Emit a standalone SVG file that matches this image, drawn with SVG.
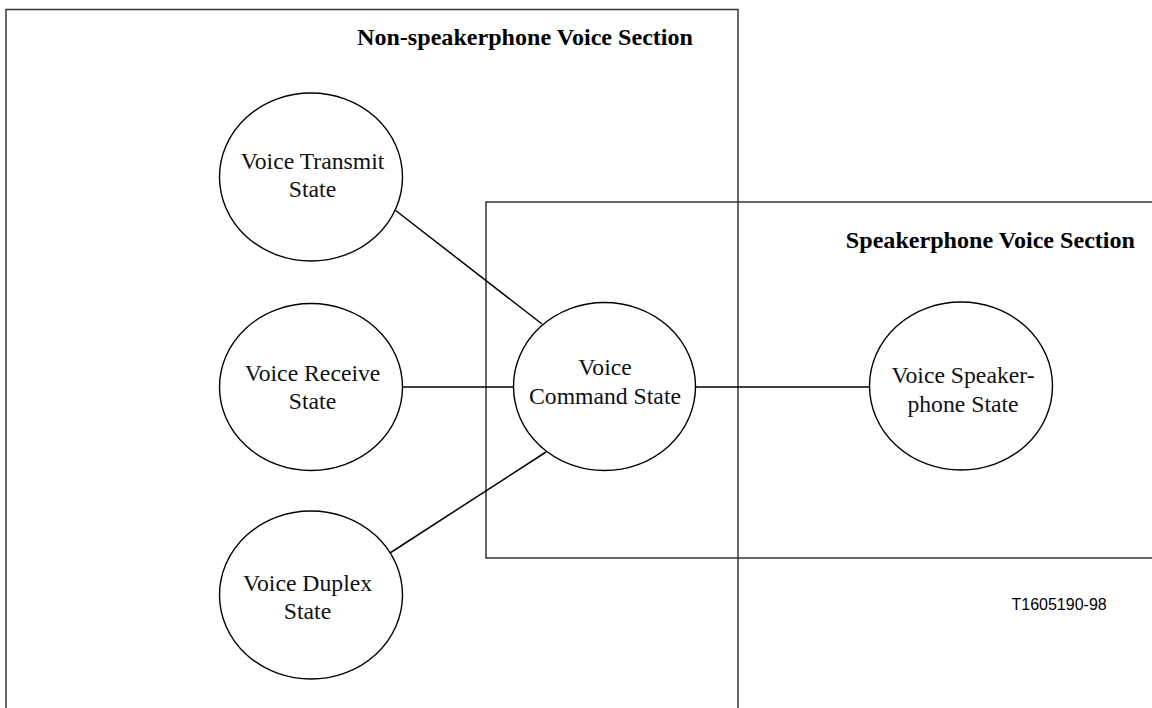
<svg xmlns="http://www.w3.org/2000/svg" width="1152" height="708" viewBox="0 0 1152 708">
<style>
.sec{fill:none;stroke:#333;stroke-width:1.5}
.node ellipse{fill:#fff;stroke:#000;stroke-width:1.4}
.lbl{font-family:"Liberation Serif","Times New Roman",serif;font-size:23.7px;fill:#111;text-anchor:middle}
.title{font-family:"Liberation Serif","Times New Roman",serif;font-size:24.1px;font-weight:bold;fill:#000}
.conn line{stroke:#000;stroke-width:1.5}
.ref{font-family:"Liberation Sans",Arial,sans-serif;font-size:16px;fill:#000}
</style>
<rect width="1152" height="708" fill="#fff"/>
<g id="sections">
<path class="sec" d="M6,712 V9.5 H738 V712"/>
<path class="sec" d="M1156,202 H486 V558 H1156"/>
<text class="title" x="357" y="45">Non-speakerphone Voice Section</text>
<text class="title" x="1135" y="248" text-anchor="end">Speakerphone Voice Section</text>
</g>
<g id="connectors" class="conn">
<line x1="395" y1="210" x2="542" y2="324"/>
<line x1="402" y1="387" x2="513" y2="387"/>
<line x1="390" y1="553" x2="546" y2="452"/>
<line x1="696" y1="387" x2="869" y2="387"/>
</g>
<g id="voice-transmit" class="node">
<ellipse cx="311" cy="177" rx="91.5" ry="84"/>
<text class="lbl" x="312.5" y="169">Voice Transmit</text>
<text class="lbl" x="312.5" y="197">State</text>
</g>
<g id="voice-receive" class="node">
<ellipse cx="311" cy="387" rx="91.5" ry="83.5"/>
<text class="lbl" x="312.5" y="381">Voice Receive</text>
<text class="lbl" x="312.5" y="409">State</text>
</g>
<g id="voice-duplex" class="node">
<ellipse cx="311" cy="595" rx="91.5" ry="84"/>
<text class="lbl" x="307.5" y="591">Voice Duplex</text>
<text class="lbl" x="307.5" y="619">State</text>
</g>
<g id="voice-command" class="node">
<ellipse cx="604.5" cy="386.5" rx="91" ry="84"/>
<text class="lbl" x="605" y="375">Voice</text>
<text class="lbl" x="605" y="404">Command State</text>
</g>
<g id="voice-speakerphone" class="node">
<ellipse cx="961" cy="386" rx="91.5" ry="84"/>
<text class="lbl" x="963" y="383">Voice Speaker-</text>
<text class="lbl" x="963" y="412">phone State</text>
</g>
<text class="ref" x="1011.5" y="610">T1605190-98</text>
</svg>
